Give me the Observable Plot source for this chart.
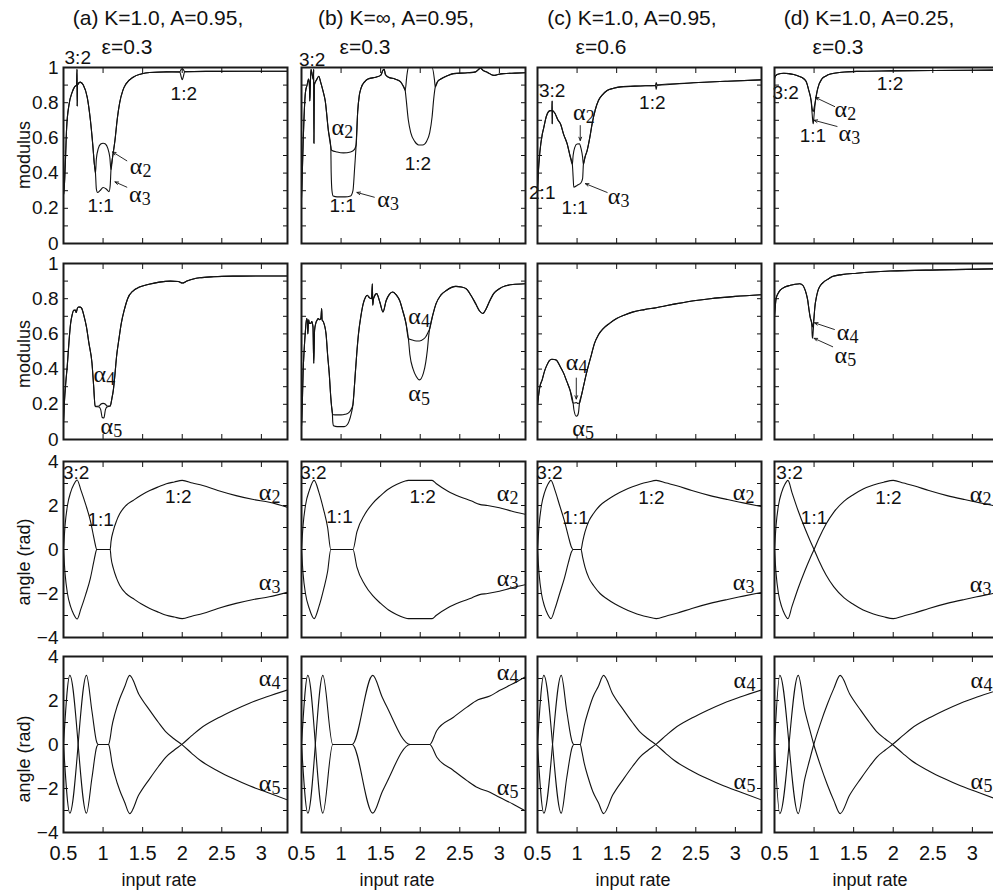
<!DOCTYPE html>
<html>
<head>
<meta charset="utf-8">
<script src="https://cdn.jsdelivr.net/npm/d3@7"></script>
<script src="https://cdn.jsdelivr.net/npm/@observablehq/plot@0.6"></script>
<style>
  html, body { margin: 0; padding: 0; background: #fff; overflow: hidden; }
  #fig { position: relative; width: 993px; height: 894px; overflow: hidden;
         font-family: "Liberation Sans", Arial, Helvetica, sans-serif; color: #111; }
  #fig svg { position: absolute; overflow: visible; }
  .lbl { position: absolute; white-space: nowrap; transform: translate(-50%, -50%); line-height: 1; }
  .ttl { font-size: 21px; }
  .axl { font-size: 18px; }
  .rot { transform: translate(-50%, -50%) rotate(-90deg); }
</style>
</head>
<body>
<div id="fig"></div>
<script>
// ---------- axes and labels ----------
const xTicks = [0.5, 1, 1.5, 2, 2.5, 3];
const xTickLabels = [0.5, 1, 1.5, 2, 2.5, 3];
const modTicks = [0, 0.1, 0.2, 0.3, 0.4, 0.5, 0.6, 0.7, 0.8, 0.9, 1];
const modTickLabels = [0, 0.2, 0.4, 0.6, 0.8, 1];
const angTicks = [-4, -3, -2, -1, 0, 1, 2, 3, 4];
const angTickLabels = [-4, -2, 0, 2, 4];
const titleLine1 = ["(a) K=1.0, A=0.95,", "(b) K=\u221e, A=0.95,", "(c) K=1.0, A=0.95,", "(d) K=1.0, A=0.25,"];
const titleLine2 = ["\u03b5=0.3", "\u03b5=0.3", "\u03b5=0.6", "\u03b5=0.3"];
const rowLabels = ["modulus", "modulus", "angle (rad)", "angle (rad)"];
const xLabel = "input rate";

// ---------- row 1: modulus of alpha2 / alpha3 ----------
const a1_alpha2 = [[0.5,0.53],[0.503,0.28],[0.52,0.42],[0.54,0.66],[0.57,0.79],[0.61,0.86],[0.64,0.89],[0.665,0.9],[0.671,0.99],[0.673,0.78],[0.677,0.9],[0.71,0.917],[0.75,0.9],[0.80,0.83],[0.84,0.70],[0.87,0.56],[0.89,0.45],[0.904,0.40],
  [0.915,0.48],[0.94,0.54],[0.97,0.565],[1.0,0.57],[1.03,0.565],[1.06,0.54],[1.085,0.49],[1.10,0.42],
  [1.12,0.49],[1.15,0.585],[1.18,0.71],[1.21,0.80],[1.25,0.87],[1.29,0.907],[1.38,0.945],[1.48,0.963],[1.59,0.972],[1.8,0.975],[1.97,0.976],[1.985,0.988],[2.0,0.993],[2.015,0.988],[2.03,0.977],[2.3,0.978],[2.8,0.979],[3.33,0.979]];
const a1_alpha3 = [[0.5,0.53],[0.503,0.28],[0.52,0.42],[0.54,0.66],[0.57,0.79],[0.61,0.86],[0.64,0.89],[0.665,0.9],[0.671,0.99],[0.673,0.78],[0.677,0.9],[0.71,0.917],[0.75,0.9],[0.80,0.83],[0.84,0.70],[0.87,0.56],[0.89,0.45],[0.904,0.40],
  [0.915,0.31],[0.93,0.29],[0.96,0.30],[1.0,0.318],[1.04,0.31],[1.075,0.295],[1.09,0.33],[1.10,0.42],
  [1.12,0.49],[1.15,0.585],[1.18,0.71],[1.21,0.80],[1.25,0.87],[1.29,0.907],[1.38,0.945],[1.48,0.963],[1.59,0.972],[1.8,0.975],[1.97,0.974],[1.985,0.95],[2.0,0.93],[2.015,0.95],[2.03,0.975],[2.3,0.978],[2.8,0.979],[3.33,0.979]];

const b1_alpha2 = [[0.5,0.26],[0.51,0.4],[0.52,0.56],[0.55,0.86],[0.57,0.9],[0.59,0.935],[0.60,0.90],[0.605,0.81],[0.61,0.88],[0.62,0.99],[0.635,0.96],[0.65,0.93],[0.654,0.99],[0.657,0.57],[0.662,0.9],[0.69,0.93],[0.72,0.95],[0.74,0.92],[0.77,0.87],[0.80,0.81],[0.84,0.64],[0.87,0.55],
  [0.88,0.53],[0.95,0.52],[1.03,0.515],[1.12,0.52],[1.17,0.535],[1.19,0.56],
  [1.21,0.75],[1.23,0.84],[1.25,0.88],[1.30,0.92],[1.34,0.935],[1.44,0.945],[1.50,0.955],[1.53,0.985],[1.545,0.99],[1.56,0.96],[1.60,0.945],[1.68,0.935],[1.75,0.92],[1.79,0.89],[1.81,0.87],
  [1.83,0.95],[1.85,1.0],[2.15,1.0],[2.18,0.93],[2.19,0.89],
  [2.22,0.92],[2.26,0.935],[2.35,0.955],[2.42,0.965],[2.6,0.97],[2.70,0.975],[2.74,0.99],[2.76,0.998],[2.79,0.985],[2.85,0.972],[2.93,0.955],[2.98,0.96],[3.05,0.965],[3.2,0.968],[3.33,0.97]];
const b1_alpha3 = [[0.5,0.26],[0.51,0.4],[0.52,0.56],[0.55,0.86],[0.57,0.9],[0.59,0.935],[0.60,0.90],[0.605,0.81],[0.61,0.88],[0.62,0.99],[0.635,0.96],[0.65,0.93],[0.654,0.99],[0.657,0.57],[0.662,0.9],[0.69,0.93],[0.72,0.95],[0.74,0.92],[0.77,0.87],[0.80,0.81],[0.84,0.64],[0.87,0.55],
  [0.875,0.40],[0.885,0.30],[0.90,0.27],[0.95,0.265],[1.05,0.265],[1.12,0.27],[1.15,0.30],[1.17,0.42],[1.19,0.56],
  [1.21,0.75],[1.23,0.84],[1.25,0.88],[1.30,0.92],[1.34,0.935],[1.44,0.945],[1.50,0.955],[1.53,0.985],[1.545,0.99],[1.56,0.96],[1.60,0.945],[1.68,0.935],[1.75,0.92],[1.79,0.89],[1.81,0.87],
  [1.82,0.83],[1.85,0.70],[1.88,0.63],[1.93,0.58],[1.98,0.56],[2.03,0.56],[2.08,0.58],[2.12,0.63],[2.15,0.72],[2.17,0.82],[2.19,0.89],
  [2.22,0.92],[2.26,0.935],[2.35,0.955],[2.42,0.965],[2.6,0.97],[2.70,0.975],[2.74,0.99],[2.76,0.998],[2.79,0.985],[2.85,0.972],[2.93,0.955],[2.98,0.96],[3.05,0.965],[3.2,0.968],[3.33,0.97]];

const c1_alpha2 = [[0.5,0.30],[0.51,0.40],[0.53,0.52],[0.56,0.62],[0.58,0.66],[0.61,0.72],[0.64,0.75],[0.665,0.755],[0.683,0.755],[0.685,0.81],[0.686,0.68],[0.688,0.755],[0.72,0.74],[0.76,0.70],[0.79,0.68],[0.83,0.62],[0.874,0.567],[0.91,0.50],[0.94,0.45],
  [0.95,0.50],[0.97,0.545],[1.0,0.565],[1.03,0.566],[1.05,0.54],[1.07,0.49],[1.08,0.45],
  [1.10,0.49],[1.127,0.528],[1.16,0.60],[1.19,0.68],[1.23,0.76],[1.27,0.8125],[1.32,0.845],[1.38,0.869],[1.46,0.882],[1.55,0.89],[1.8,0.895],[1.99,0.898],[2.0,0.915],[2.01,0.9],[2.47,0.913],[2.9,0.922],[3.33,0.93]];
const c1_alpha3 = [[0.5,0.30],[0.51,0.40],[0.53,0.52],[0.56,0.62],[0.58,0.66],[0.61,0.72],[0.64,0.75],[0.665,0.755],[0.683,0.755],[0.685,0.81],[0.686,0.68],[0.688,0.755],[0.72,0.74],[0.76,0.70],[0.79,0.68],[0.83,0.62],[0.874,0.567],[0.91,0.50],[0.94,0.45],
  [0.95,0.38],[0.958,0.32],[1.0,0.33],[1.05,0.345],[1.07,0.37],[1.08,0.45],
  [1.10,0.49],[1.127,0.528],[1.16,0.60],[1.19,0.68],[1.23,0.76],[1.27,0.8125],[1.32,0.845],[1.38,0.869],[1.46,0.882],[1.55,0.89],[1.8,0.895],[1.99,0.898],[2.0,0.875],[2.01,0.9],[2.47,0.913],[2.9,0.922],[3.33,0.93]];

const d1_alpha2 = [[0.5,0.935],[0.504,0.945],[0.534,0.96],[0.58,0.966],[0.617,0.967],[0.68,0.965],[0.743,0.96],[0.80,0.952],[0.87,0.936],[0.90,0.92],[0.933,0.87],[0.963,0.81],
  [0.975,0.77],[0.985,0.75],[0.99,0.75],[1.0,0.77],[1.017,0.81],
  [1.046,0.88],[1.10,0.936],[1.15,0.952],[1.206,0.963],[1.35,0.973],[1.54,0.978],[1.96,0.981],[2.5,0.983],[3.33,0.985]];
const d1_alpha3 = [[0.5,0.935],[0.504,0.945],[0.534,0.96],[0.58,0.966],[0.617,0.967],[0.68,0.965],[0.743,0.96],[0.80,0.952],[0.87,0.936],[0.90,0.92],[0.933,0.87],[0.963,0.81],
  [0.975,0.74],[0.985,0.69],[0.99,0.68],[1.0,0.73],[1.017,0.81],
  [1.046,0.88],[1.10,0.936],[1.15,0.952],[1.206,0.963],[1.35,0.973],[1.54,0.978],[1.96,0.981],[2.5,0.983],[3.33,0.985]];

// ---------- row 2: modulus of alpha4 / alpha5 ----------
const a2_alpha4 = [[0.5,0.10],[0.51,0.2],[0.53,0.33],[0.547,0.414],[0.57,0.56],[0.59,0.66],[0.61,0.71],[0.63,0.734],[0.65,0.735],[0.66,0.722],[0.675,0.745],[0.69,0.753],[0.71,0.752],[0.73,0.745],[0.76,0.70],[0.79,0.64],[0.82,0.55],[0.86,0.433],[0.88,0.31],[0.90,0.188],
  [0.95,0.19],[0.97,0.2],[1.0,0.205],[1.03,0.2],[1.05,0.19],[1.09,0.19],
  [1.11,0.23],[1.13,0.282],[1.15,0.37],[1.17,0.47],[1.20,0.57],[1.23,0.66],[1.27,0.74],[1.31,0.80],[1.38,0.845],[1.46,0.866],[1.58,0.882],[1.71,0.894],[1.85,0.90],[1.95,0.898],[2.0,0.889],[2.06,0.90],[2.14,0.912],[2.22,0.919],[2.4,0.925],[2.64,0.928],[3.0,0.929],[3.33,0.929]];
const a2_alpha5 = [[0.5,0.10],[0.51,0.2],[0.53,0.33],[0.547,0.414],[0.57,0.56],[0.59,0.66],[0.61,0.71],[0.63,0.734],[0.65,0.735],[0.66,0.722],[0.675,0.745],[0.69,0.753],[0.71,0.752],[0.73,0.745],[0.76,0.70],[0.79,0.64],[0.82,0.55],[0.86,0.433],[0.88,0.31],[0.90,0.188],
  [0.95,0.185],[0.97,0.17],[0.99,0.125],[1.01,0.122],[1.03,0.17],[1.05,0.185],[1.09,0.19],
  [1.11,0.23],[1.13,0.282],[1.15,0.37],[1.17,0.47],[1.20,0.57],[1.23,0.66],[1.27,0.74],[1.31,0.80],[1.38,0.845],[1.46,0.866],[1.58,0.882],[1.71,0.894],[1.85,0.90],[1.95,0.898],[2.0,0.889],[2.06,0.90],[2.14,0.912],[2.22,0.919],[2.4,0.925],[2.64,0.928],[3.0,0.929],[3.33,0.929]];

const b2_alpha4 = [[0.5,0.075],[0.51,0.2],[0.52,0.377],[0.535,0.52],[0.55,0.62],[0.565,0.687],[0.575,0.67],[0.58,0.60],[0.59,0.68],[0.60,0.66],[0.62,0.66],[0.63,0.67],[0.645,0.64],[0.655,0.433],[0.665,0.62],[0.68,0.66],[0.70,0.68],[0.71,0.687],[0.73,0.68],[0.745,0.69],[0.755,0.744],[0.76,0.68],[0.775,0.67],[0.81,0.60],[0.83,0.48],[0.85,0.377],[0.87,0.24],[0.88,0.188],[0.89,0.15],
  [0.90,0.141],[0.95,0.14],[1.0,0.14],[1.05,0.143],[1.09,0.15],[1.12,0.165],[1.15,0.198],
  [1.165,0.28],[1.18,0.377],[1.20,0.50],[1.22,0.60],[1.25,0.70],[1.28,0.772],[1.31,0.81],[1.33,0.82],[1.36,0.805],[1.385,0.80],[1.395,0.885],[1.40,0.763],[1.41,0.80],[1.45,0.829],[1.49,0.78],[1.53,0.725],[1.57,0.79],[1.61,0.825],[1.65,0.838],[1.70,0.82],[1.74,0.79],[1.78,0.73],[1.82,0.66],[1.85,0.575],
  [1.90,0.565],[1.95,0.56],[1.99,0.56],[2.04,0.57],[2.07,0.584],[2.10,0.61],[2.12,0.63],
  [2.16,0.71],[2.20,0.772],[2.26,0.82],[2.33,0.847],[2.45,0.87],[2.52,0.866],[2.58,0.857],[2.64,0.82],[2.70,0.772],[2.75,0.73],[2.79,0.716],[2.83,0.74],[2.87,0.78],[2.93,0.83],[3.0,0.857],[3.08,0.873],[3.17,0.881],[3.33,0.885]];
const b2_alpha5 = [[0.5,0.075],[0.51,0.2],[0.52,0.377],[0.535,0.52],[0.55,0.62],[0.565,0.687],[0.575,0.67],[0.58,0.60],[0.59,0.68],[0.60,0.66],[0.62,0.66],[0.63,0.67],[0.645,0.64],[0.655,0.433],[0.665,0.62],[0.68,0.66],[0.70,0.68],[0.71,0.687],[0.73,0.68],[0.745,0.69],[0.755,0.744],[0.76,0.68],[0.775,0.67],[0.81,0.60],[0.83,0.48],[0.85,0.377],[0.87,0.24],[0.88,0.188],[0.89,0.15],
  [0.895,0.10],[0.905,0.078],[0.95,0.073],[1.04,0.073],[1.08,0.085],[1.10,0.103],[1.13,0.15],[1.15,0.198],
  [1.165,0.28],[1.18,0.377],[1.20,0.50],[1.22,0.60],[1.25,0.70],[1.28,0.772],[1.31,0.81],[1.33,0.82],[1.36,0.805],[1.385,0.80],[1.395,0.885],[1.40,0.763],[1.41,0.80],[1.45,0.829],[1.49,0.78],[1.53,0.725],[1.57,0.79],[1.61,0.825],[1.65,0.838],[1.70,0.82],[1.74,0.79],[1.78,0.73],[1.82,0.66],[1.85,0.575],
  [1.87,0.48],[1.91,0.40],[1.95,0.358],[1.99,0.339],[2.04,0.377],[2.07,0.44],[2.09,0.508],[2.11,0.60],[2.12,0.63],
  [2.16,0.71],[2.20,0.772],[2.26,0.82],[2.33,0.847],[2.45,0.87],[2.52,0.866],[2.58,0.857],[2.64,0.82],[2.70,0.772],[2.75,0.73],[2.79,0.716],[2.83,0.74],[2.87,0.78],[2.93,0.83],[3.0,0.857],[3.08,0.873],[3.17,0.881],[3.33,0.885]];

const c2_alpha4 = [[0.5,0.198],[0.53,0.30],[0.559,0.339],[0.59,0.39],[0.62,0.424],[0.65,0.448],[0.68,0.456],[0.71,0.455],[0.74,0.45],[0.78,0.42],[0.83,0.377],[0.87,0.33],[0.91,0.282],[0.95,0.207],
  [0.97,0.207],[0.99,0.21],[1.01,0.205],[1.03,0.207],
  [1.055,0.25],[1.08,0.30],[1.11,0.36],[1.14,0.414],[1.18,0.48],[1.22,0.546],[1.27,0.595],[1.33,0.63],[1.41,0.66],[1.50,0.687],[1.6,0.707],[1.71,0.725],[1.85,0.738],[2.0,0.749],[2.26,0.772],[2.5,0.79],[2.68,0.80],[3.0,0.813],[3.33,0.823]];
const c2_alpha5 = [[0.5,0.198],[0.53,0.30],[0.559,0.339],[0.59,0.39],[0.62,0.424],[0.65,0.448],[0.68,0.456],[0.71,0.455],[0.74,0.45],[0.78,0.42],[0.83,0.377],[0.87,0.33],[0.91,0.282],[0.95,0.207],
  [0.96,0.169],[0.99,0.132],[1.01,0.14],[1.02,0.16],[1.03,0.207],
  [1.055,0.25],[1.08,0.30],[1.11,0.36],[1.14,0.414],[1.18,0.48],[1.22,0.546],[1.27,0.595],[1.33,0.63],[1.41,0.66],[1.50,0.687],[1.6,0.707],[1.71,0.725],[1.85,0.738],[2.0,0.749],[2.26,0.772],[2.5,0.79],[2.68,0.80],[3.0,0.813],[3.33,0.823]];

const d2_alpha4 = [[0.5,0.697],[0.52,0.80],[0.545,0.83],[0.57,0.847],[0.63,0.866],[0.70,0.876],[0.76,0.882],[0.82,0.885],[0.86,0.875],[0.88,0.857],[0.90,0.83],[0.92,0.79],[0.935,0.74],[0.95,0.697],[0.97,0.66],
  [0.98,0.64],[0.99,0.66],[1.0,0.70],[1.01,0.753],
  [1.03,0.81],[1.05,0.847],[1.08,0.875],[1.12,0.894],[1.18,0.912],[1.24,0.927],[1.35,0.937],[1.54,0.945],[1.96,0.957],[2.59,0.964],[3.33,0.97]];
const d2_alpha5 = [[0.5,0.697],[0.52,0.80],[0.545,0.83],[0.57,0.847],[0.63,0.866],[0.70,0.876],[0.76,0.882],[0.82,0.885],[0.86,0.875],[0.88,0.857],[0.90,0.83],[0.92,0.79],[0.935,0.74],[0.95,0.697],[0.97,0.66],
  [0.975,0.60],[0.98,0.575],[0.985,0.59],[0.995,0.66],[1.01,0.753],
  [1.03,0.81],[1.05,0.847],[1.08,0.875],[1.12,0.894],[1.18,0.912],[1.24,0.927],[1.35,0.937],[1.54,0.945],[1.96,0.957],[2.59,0.964],[3.33,0.97]];

// ---------- row 3: angle of alpha2 / alpha3 ----------
const a3_alpha2 = [[0.5,0],[0.52,1.1],[0.55,2.0],[0.59,2.6],[0.63,2.95],[0.672,3.16],[0.72,2.7],[0.78,2.05],[0.84,1.3],[0.88,0.6],[0.90,0.25],[0.92,0],[1.09,0],[1.10,0.35],[1.13,0.86],[1.17,1.3],[1.21,1.62],[1.29,2.0],[1.38,2.23],[1.48,2.47],[1.59,2.68],[1.70,2.85],[1.80,2.99],[1.90,3.07],[2.0,3.14],[2.13,3.02],[2.26,2.91],[2.45,2.68],[2.68,2.45],[2.9,2.27],[3.1,2.15],[3.33,1.92]];
const a3_alpha3 = [[0.5,0],[0.52,-1.1],[0.55,-2.0],[0.59,-2.6],[0.63,-2.95],[0.672,-3.16],[0.72,-2.7],[0.78,-2.05],[0.84,-1.3],[0.88,-0.6],[0.90,-0.25],[0.92,0],[1.09,0],[1.10,-0.35],[1.13,-0.86],[1.17,-1.3],[1.21,-1.62],[1.29,-2.0],[1.38,-2.23],[1.48,-2.47],[1.59,-2.68],[1.70,-2.85],[1.80,-2.99],[1.90,-3.07],[2.0,-3.14],[2.13,-3.02],[2.26,-2.91],[2.45,-2.68],[2.68,-2.45],[2.9,-2.27],[3.1,-2.15],[3.33,-1.94]];

const b3_alpha2 = [[0.5,0],[0.52,1.1],[0.55,2.0],[0.6,2.7],[0.66,3.14],[0.72,2.6],[0.78,1.8],[0.83,1.0],[0.87,0],[1.15,0],[1.2,0.8],[1.3,1.6],[1.4,2.1],[1.5,2.45],[1.6,2.75],[1.7,2.95],[1.8,3.1],[1.85,3.14],[2.15,3.14],[2.2,3.0],[2.35,2.65],[2.5,2.4],[2.65,2.2],[2.75,2.05],[2.85,2.0],[3.0,1.9],[3.15,1.75],[3.33,1.6]];
const b3_alpha3 = [[0.5,0],[0.52,-1.1],[0.55,-2.0],[0.6,-2.7],[0.66,-3.14],[0.72,-2.6],[0.78,-1.8],[0.83,-1.0],[0.87,0],[1.15,0],[1.2,-0.8],[1.3,-1.6],[1.4,-2.1],[1.5,-2.45],[1.6,-2.75],[1.7,-2.95],[1.8,-3.1],[1.85,-3.14],[2.15,-3.14],[2.2,-3.0],[2.35,-2.65],[2.5,-2.4],[2.65,-2.2],[2.75,-2.05],[2.85,-2.0],[3.0,-1.9],[3.15,-1.75],[3.33,-1.6]];

const c3_alpha2 = [[0.5,0],[0.52,1.1],[0.55,2.0],[0.59,2.6],[0.63,2.95],[0.67,3.14],[0.72,2.7],[0.78,2.0],[0.84,1.3],[0.89,0.6],[0.93,0.1],[0.95,0],[1.05,0],[1.07,0.35],[1.10,0.8],[1.15,1.3],[1.21,1.65],[1.29,2.0],[1.38,2.25],[1.48,2.48],[1.59,2.68],[1.70,2.85],[1.80,2.98],[1.90,3.07],[2.0,3.14],[2.13,3.02],[2.26,2.9],[2.45,2.68],[2.68,2.45],[2.9,2.27],[3.1,2.12],[3.33,1.95]];
const c3_alpha3 = [[0.5,0],[0.52,-1.1],[0.55,-2.0],[0.59,-2.6],[0.63,-2.95],[0.67,-3.14],[0.72,-2.7],[0.78,-2.0],[0.84,-1.3],[0.89,-0.6],[0.93,-0.1],[0.95,0],[1.05,0],[1.07,-0.35],[1.10,-0.8],[1.15,-1.3],[1.21,-1.65],[1.29,-2.0],[1.38,-2.25],[1.48,-2.48],[1.59,-2.68],[1.70,-2.85],[1.80,-2.98],[1.90,-3.07],[2.0,-3.14],[2.13,-3.02],[2.26,-2.9],[2.45,-2.68],[2.68,-2.45],[2.9,-2.27],[3.1,-2.12],[3.33,-1.95]];

const d3_alpha2 = [[0.5,0],[0.52,-1.1],[0.55,-2.0],[0.59,-2.6],[0.63,-2.95],[0.67,-3.14],[0.72,-2.6],[0.80,-1.75],[0.88,-1.0],[0.95,-0.4],[1.0,0],[1.06,0.5],[1.15,1.15],[1.25,1.7],[1.38,2.2],[1.5,2.5],[1.62,2.75],[1.75,2.93],[1.88,3.06],[2.0,3.14],[2.13,3.02],[2.26,2.9],[2.45,2.68],[2.68,2.45],[2.9,2.27],[3.1,2.12],[3.33,1.95]];
const d3_alpha3 = [[0.5,0],[0.52,1.1],[0.55,2.0],[0.59,2.6],[0.63,2.95],[0.67,3.14],[0.72,2.6],[0.80,1.75],[0.88,1.0],[0.95,0.4],[1.0,0],[1.06,-0.5],[1.15,-1.15],[1.25,-1.7],[1.38,-2.2],[1.5,-2.5],[1.62,-2.75],[1.75,-2.93],[1.88,-3.06],[2.0,-3.14],[2.13,-3.02],[2.26,-2.9],[2.45,-2.68],[2.68,-2.45],[2.9,-2.27],[3.1,-2.12],[3.33,-1.95]];

// ---------- row 4: angle of alpha4 / alpha5 ----------
const a4_alpha4 = [[0.5,0],[0.58,-3.12],[0.79,3.14],[0.86,1.5],[0.92,0.1],[0.94,0],[1.07,0],[1.09,-0.3],[1.11,-0.79],[1.15,-1.4],[1.21,-2.08],[1.27,-2.6],[1.336,-3.14],[1.45,-2.3],[1.59,-1.55],[1.70,-1.0],[1.80,-0.55],[1.90,-0.25],[2.0,0.02],[2.12,0.4],[2.23,0.73],[2.45,1.2],[2.65,1.56],[2.85,1.88],[3.07,2.17],[3.33,2.48]];
const a4_alpha5 = [[0.5,0],[0.58,3.14],[0.79,-3.12],[0.86,-1.5],[0.92,-0.1],[0.94,0],[1.07,0],[1.09,0.3],[1.11,0.79],[1.15,1.4],[1.21,2.08],[1.27,2.6],[1.336,3.14],[1.45,2.3],[1.59,1.55],[1.70,1.0],[1.80,0.55],[1.90,0.25],[2.0,-0.02],[2.12,-0.4],[2.23,-0.73],[2.45,-1.2],[2.65,-1.56],[2.85,-1.88],[3.07,-2.17],[3.33,-2.52]];

const b4_alpha4 = [[0.5,0],[0.58,-3.12],[0.77,3.14],[0.895,0],[1.14,0],[1.40,-3.12],[1.52,-2.15],[1.58,-1.7],[1.875,0],[2.12,0],[2.21,0.64],[2.42,1.24],[2.59,1.70],[2.73,2.03],[2.88,2.2],[3.0,2.45],[3.17,2.76],[3.32,3.06]];
const b4_alpha5 = [[0.5,0],[0.58,3.14],[0.77,-3.12],[0.895,0],[1.14,0],[1.40,3.14],[1.52,2.15],[1.58,1.7],[1.875,0],[2.12,0],[2.21,-0.58],[2.42,-1.18],[2.59,-1.64],[2.73,-1.97],[2.88,-2.17],[3.0,-2.4],[3.17,-2.7],[3.32,-3.0]];

const c4_alpha4 = [[0.5,0],[0.58,-3.12],[0.80,3.14],[0.87,1.5],[0.94,0.1],[0.96,0],[1.04,0],[1.06,-0.3],[1.09,-0.85],[1.14,-1.5],[1.2,-2.15],[1.27,-2.65],[1.335,-3.14],[1.45,-2.3],[1.59,-1.55],[1.70,-1.0],[1.80,-0.55],[1.90,-0.25],[2.0,0.02],[2.12,0.4],[2.23,0.73],[2.45,1.2],[2.65,1.56],[2.85,1.88],[3.07,2.17],[3.33,2.48]];
const c4_alpha5 = [[0.5,0],[0.58,3.14],[0.80,-3.12],[0.87,-1.5],[0.94,-0.1],[0.96,0],[1.04,0],[1.06,0.3],[1.09,0.85],[1.14,1.5],[1.2,2.15],[1.27,2.65],[1.335,3.14],[1.45,2.3],[1.59,1.55],[1.70,1.0],[1.80,0.55],[1.90,0.25],[2.0,-0.02],[2.12,-0.4],[2.23,-0.73],[2.45,-1.2],[2.65,-1.56],[2.85,-1.88],[3.07,-2.17],[3.33,-2.52]];

const d4_alpha4 = [[0.5,0],[0.567,-3.14],[0.80,3.14],[0.88,1.6],[0.94,0.75],[0.996,0],[1.08,-0.95],[1.17,-1.85],[1.25,-2.55],[1.33,-3.14],[1.45,-2.3],[1.59,-1.55],[1.70,-1.0],[1.80,-0.55],[1.90,-0.25],[1.99,0],[2.12,0.4],[2.23,0.73],[2.45,1.2],[2.65,1.56],[2.85,1.88],[3.07,2.17],[3.33,2.48]];
const d4_alpha5 = [[0.5,0],[0.567,3.14],[0.80,-3.14],[0.88,-1.6],[0.94,-0.75],[0.996,0],[1.08,0.95],[1.17,1.85],[1.25,2.55],[1.33,3.14],[1.45,2.3],[1.59,1.55],[1.70,1.0],[1.80,0.55],[1.90,0.25],[1.99,0],[2.12,-0.4],[2.23,-0.73],[2.45,-1.2],[2.65,-1.56],[2.85,-1.88],[3.07,-2.17],[3.33,-2.52]];

// ---------- annotations (data coordinates) ----------
const ratioNotes = {
  a1: [{x:0.68,y:1.055,t:"3:2"},{x:2.02,y:0.85,t:"1:2"},{x:0.97,y:0.215,t:"1:1"}],
  b1: [{x:0.635,y:1.045,t:"3:2"},{x:1.02,y:0.215,t:"1:1"},{x:1.97,y:0.45,t:"1:2"}],
  c1: [{x:0.685,y:0.865,t:"3:2"},{x:1.95,y:0.80,t:"1:2"},{x:0.56,y:0.287,t:"2:1"},{x:0.97,y:0.20,t:"1:1"}],
  d1: [{x:0.64,y:0.855,t:"3:2"},{x:1.96,y:0.907,t:"1:2"},{x:0.985,y:0.614,t:"1:1"}],
  a3: [{x:0.66,y:3.48,t:"3:2"},{x:0.97,y:1.36,t:"1:1"},{x:1.95,y:2.38,t:"1:2"}],
  b3: [{x:0.65,y:3.48,t:"3:2"},{x:0.98,y:1.5,t:"1:1"},{x:2.03,y:2.38,t:"1:2"}],
  c3: [{x:0.65,y:3.48,t:"3:2"},{x:0.98,y:1.45,t:"1:1"},{x:1.94,y:2.36,t:"1:2"}],
  d3: [{x:0.69,y:3.48,t:"3:2"},{x:1.0,y:1.45,t:"1:1"},{x:1.94,y:2.36,t:"1:2"}]
};
const greekNotes = {
  a1: [{x:1.48,y:0.44,s:"2"},{x:1.47,y:0.28,s:"3"}],
  b1: [{x:1.02,y:0.66,s:"2"},{x:1.60,y:0.25,s:"3"}],
  c1: [{x:1.09,y:0.746,s:"2"},{x:1.53,y:0.27,s:"3"}],
  d1: [{x:1.40,y:0.765,s:"2"},{x:1.45,y:0.625,s:"3"}],
  a2: [{x:1.02,y:0.373,s:"4"},{x:1.11,y:0.073,s:"5"}],
  b2: [{x:1.99,y:0.70,s:"4"},{x:1.99,y:0.26,s:"5"}],
  c2: [{x:1.0,y:0.438,s:"4"},{x:1.08,y:0.066,s:"5"}],
  d2: [{x:1.43,y:0.61,s:"4"},{x:1.40,y:0.48,s:"5"}],
  a3: [{x:3.11,y:2.59,s:"2"},{x:3.11,y:-1.49,s:"3"}],
  b3: [{x:3.11,y:2.55,s:"2"},{x:3.11,y:-1.3,s:"3"}],
  c3: [{x:3.11,y:2.6,s:"2"},{x:3.11,y:-1.5,s:"3"}],
  d3: [{x:3.11,y:2.5,s:"2"},{x:3.11,y:-1.6,s:"3"}],
  a4: [{x:3.11,y:3.02,s:"4"},{x:3.11,y:-1.75,s:"5"}],
  b4: [{x:3.11,y:3.27,s:"4"},{x:3.11,y:-1.94,s:"5"}],
  c4: [{x:3.12,y:2.9,s:"4"},{x:3.12,y:-1.67,s:"5"}],
  d4: [{x:3.12,y:2.9,s:"4"},{x:3.12,y:-1.67,s:"5"}]
};
const pointerArrows = {
  a1: [{x1:1.30,y1:0.47,x2:1.12,y2:0.52},{x1:1.30,y1:0.32,x2:1.15,y2:0.35}],
  b1: [{x1:1.42,y1:0.263,x2:1.20,y2:0.29}],
  c1: [{x1:1.04,y1:0.67,x2:1.04,y2:0.585},{x1:1.38,y1:0.29,x2:1.105,y2:0.34}],
  d1: [{x1:1.26,y1:0.778,x2:1.017,y2:0.83},{x1:1.29,y1:0.665,x2:1.0,y2:0.70}],
  c2: [{x1:0.99,y1:0.349,x2:0.99,y2:0.23}],
  d2: [{x1:1.257,y1:0.625,x2:1.005,y2:0.663},{x1:1.235,y1:0.527,x2:1.0,y2:0.575}]
};

const panelCurves = {
  a1: [a1_alpha2, a1_alpha3], b1: [b1_alpha2, b1_alpha3], c1: [c1_alpha2, c1_alpha3], d1: [d1_alpha2, d1_alpha3],
  a2: [a2_alpha4, a2_alpha5], b2: [b2_alpha4, b2_alpha5], c2: [c2_alpha4, c2_alpha5], d2: [d2_alpha4, d2_alpha5],
  a3: [a3_alpha2, a3_alpha3], b3: [b3_alpha2, b3_alpha3], c3: [c3_alpha2, c3_alpha3], d3: [d3_alpha2, d3_alpha3],
  a4: [a4_alpha4, a4_alpha5], b4: [b4_alpha4, b4_alpha5], c4: [c4_alpha4, c4_alpha5], d4: [d4_alpha4, d4_alpha5]
};

// ---------- layout ----------
const colLeft = [63, 301, 537, 774];
const rowTop = [67, 263, 461, 656];
const PW = 224, PH = 176;
const M = {left: 70, right: 30, top: 40, bottom: 50};
const INK = "#111";
const SERIF = "Liberation Serif, Times New Roman, serif";
const fig = document.getElementById("fig");
const fmtTick = d => (d < 0 ? "\u2212" + Math.abs(d) : String(d));
const letters = ["a", "b", "c", "d"];

for (let row = 0; row < 4; row++) {
  for (let col = 0; col < 4; col++) {
    const key = letters[col] + (row + 1);
    const isMod = row < 2;
    const yTicks = isMod ? modTicks : angTicks;
    const marks = [
      Plot.axisX(xTicks, {anchor: "bottom", tickSize: -5, tickFormat: () => "", label: null, stroke: INK}),
      Plot.axisX(xTicks, {anchor: "top", tickSize: -5, tickFormat: () => "", label: null, stroke: INK}),
      Plot.axisY(yTicks, {anchor: "left", tickSize: -5, tickFormat: () => "", label: null, stroke: INK}),
      Plot.axisY(yTicks, {anchor: "right", tickSize: -5, tickFormat: () => "", label: null, stroke: INK})
    ];
    if (row === 3) marks.push(Plot.axisX(xTickLabels, {anchor: "bottom", tickSize: 0, tickPadding: 13, fontSize: 20, fill: INK, label: null, tickFormat: fmtTick}));
    if (col === 0) marks.push(Plot.axisY(isMod ? modTickLabels : angTickLabels, {anchor: "left", tickSize: 0, tickPadding: 5, fontSize: 19, fill: INK, label: null, tickFormat: fmtTick}));
    for (const c of panelCurves[key]) {
      marks.push(Plot.line(c, {x: d => d[0], y: d => d[1], stroke: INK, strokeWidth: 1.1, curve: "monotone-x", clip: true}));
    }
    if (pointerArrows[key]) marks.push(Plot.arrow(pointerArrows[key], {x1: "x1", y1: "y1", x2: "x2", y2: "y2", stroke: INK, strokeWidth: 0.9, headLength: 6, headAngle: 45}));
    if (ratioNotes[key]) marks.push(Plot.text(ratioNotes[key], {x: "x", y: "y", text: "t", fontSize: 19, fill: INK}));
    if (greekNotes[key]) {
      marks.push(Plot.text(greekNotes[key], {x: "x", y: "y", text: () => "\u03b1", dx: -5, fontSize: 24, fontFamily: SERIF, fill: INK}));
      marks.push(Plot.text(greekNotes[key], {x: "x", y: "y", text: "s", dx: 6, dy: 5, fontSize: 18, fontFamily: SERIF, fill: INK}));
    }
    marks.push(Plot.frame({stroke: "#1a1a1a", strokeWidth: 2}));

    const svg = Plot.plot({
      width: PW + M.left + M.right,
      height: PH + M.top + M.bottom,
      marginLeft: M.left, marginRight: M.right, marginTop: M.top, marginBottom: M.bottom,
      x: {domain: [0.5, 3.33], axis: null},
      y: {domain: isMod ? [0, 1] : [-4, 4], axis: null},
      style: {fontFamily: "Liberation Sans, Arial, Helvetica, sans-serif", background: "transparent", overflow: "visible"},
      marks
    });
    svg.style.left = (colLeft[col] - M.left) + "px";
    svg.style.top = (rowTop[row] - M.top) + "px";
    fig.appendChild(svg);
  }
}

// ---------- titles and axis labels ----------
function addLabel(text, x, y, cls) {
  const el = document.createElement("div");
  el.className = "lbl " + cls;
  el.textContent = text;
  el.style.left = x + "px";
  el.style.top = y + "px";
  fig.appendChild(el);
}
for (let col = 0; col < 4; col++) {
  const cx = colLeft[col] + PW / 2;
  addLabel(titleLine1[col], cx - 17, 17, "ttl");
  addLabel(titleLine2[col], cx - 48, 46, "ttl");
  addLabel(xLabel, cx - 16, 880, "axl");
}
const rowLabelY = [155, 354, 562, 759];
for (let row = 0; row < 4; row++) addLabel(rowLabels[row], 24, rowLabelY[row], "axl rot");
</script>
</body>
</html>
